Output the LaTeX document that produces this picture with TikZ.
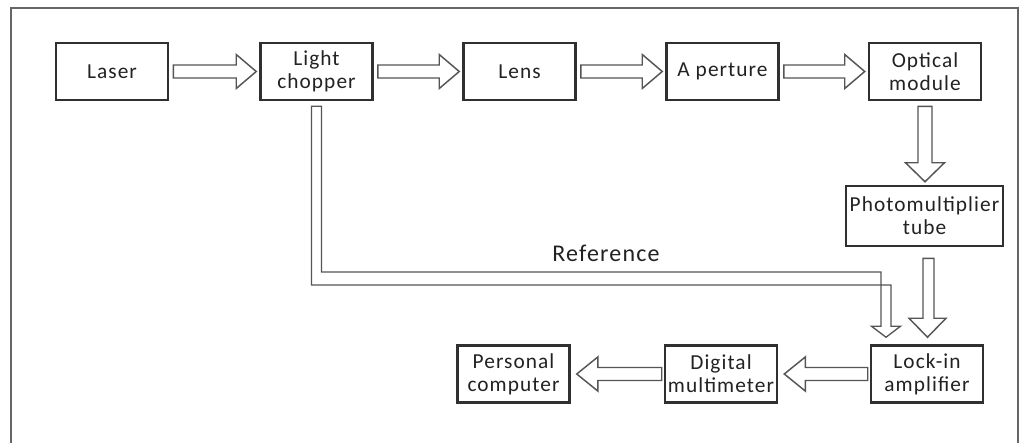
\documentclass[tikz,border=0pt]{standalone}
\usepackage{fontspec}
\setmainfont[LetterSpace=5]{Carlito}
\usetikzlibrary{calc}
\definecolor{boxline}{HTML}{303030}
\definecolor{arrline}{HTML}{555555}
\definecolor{txt}{HTML}{222222}
\tikzset{
  blk/.style={draw=boxline, line width=1.9pt, fill=white, minimum width=84pt, minimum height=42.75pt,
    inner sep=0pt, align=center, text=txt, font=\fontsize{16}{17.5}\selectfont},
  barrow/.style={draw=arrline, line width=1.1pt, fill=white, line join=miter},
  framel/.style={draw=arrline!90, line width=1.1pt}
}
\newcommand\rarrow[2]{\draw[barrow] ($(#1.east)+(4,-6.5)$) -- ($(#2.west)+(-23,-6.5)$) -- ($(#2.west)+(-23,-17)$) -- ($(#2.west)+(-3,0)$) -- ($(#2.west)+(-23,17)$) -- ($(#2.west)+(-23,6.5)$) -- ($(#1.east)+(4,6.5)$) -- cycle;}
\newcommand\larrow[2]{\draw[barrow] ($(#1.west)+(-2,-6.5)$) -- ($(#2.east)+(27,-6.5)$) -- ($(#2.east)+(27,-17)$) -- ($(#2.east)+(6,0)$) -- ($(#2.east)+(27,17)$) -- ($(#2.east)+(27,6.5)$) -- ($(#1.west)+(-2,6.5)$) -- cycle;}
\begin{document}
\begin{tikzpicture}[x=0.75pt,y=-0.75pt]
\useasboundingbox (0,0) rectangle (1026,443);
\fill[white] (0,0) rectangle (1026,443);
% frame
\draw[framel] (11,450) -- (11,8) -- (1018,8) -- (1018,450);
% boxes
\node[blk] (laser) at (112,71.5) {Laser};
\node[blk] (chop) at (316.5,71.5) {Light\\chopper};
\node[blk] (lens) at (519.5,71.5) {Lens};
\node[blk] (aper) at (722.5,71.5) {A perture};
\node[blk] (optm) at (925,71.5) {Optical\\module};
\node[blk, minimum width=117.75pt, minimum height=45pt] (pmt) at (924.5,216) {Photomultiplier\\tube};
\node[blk] (lock) at (927,374) {Lock-in\\amplifier};
\node[blk] (dmm) at (721,374) {Digital\\multimeter};
\node[blk] (pc) at (513.5,374) {Personal\\computer};
% top row arrows
\rarrow{laser}{chop}
\rarrow{chop}{lens}
\rarrow{lens}{aper}
\rarrow{aper}{optm}
% optical -> pmt
\draw[barrow] ($(optm.south)+(-7,5)$) -- ($(pmt.north)+(-6.5,-22)$) -- ($(pmt.north)+(-19,-22)$) -- ($(pmt.north)+(0.5,-3)$) -- ($(pmt.north)+(20,-22)$) -- ($(pmt.north)+(7.5,-22)$) -- ($(optm.south)+(7,5)$) -- cycle;
% pmt -> lock-in
\draw[barrow] ($(pmt.south)+(-1.5,11)$) -- ($(lock.north)+(-4,-26)$) -- ($(lock.north)+(-18,-26)$) -- ($(lock.north)+(0.5,-7)$) -- ($(lock.north)+(19,-26)$) -- ($(lock.north)+(7,-26)$) -- ($(pmt.south)+(9.5,11)$) -- cycle;
% reference
\coordinate (rbend) at (886,278.5);
\draw[barrow, line width=1pt] ($(chop.south)+(-5,5)$) -- ($(chop.south|-rbend)+(-5,6.5)$) -- ($(rbend)+(5,6.5)$) -- ($(rbend|-lock.north)+(5,-18)$) -- ($(rbend|-lock.north)+(14.5,-18)$) -- ($(rbend|-lock.north)+(0,-7)$) -- ($(rbend|-lock.north)+(-14.5,-18)$) -- ($(rbend|-lock.north)+(-5,-18)$) -- ($(rbend)+(-5,-6.5)$) -- ($(chop.south|-rbend)+(5,-6.5)$) -- ($(chop.south)+(5,5)$) -- cycle;
\node[text=txt, font=\fontsize{18}{20}\selectfont] (reflbl) at (606,253) {Reference};
% bottom row arrows
\larrow{lock}{dmm}
\larrow{dmm}{pc}
\end{tikzpicture}
\end{document}
